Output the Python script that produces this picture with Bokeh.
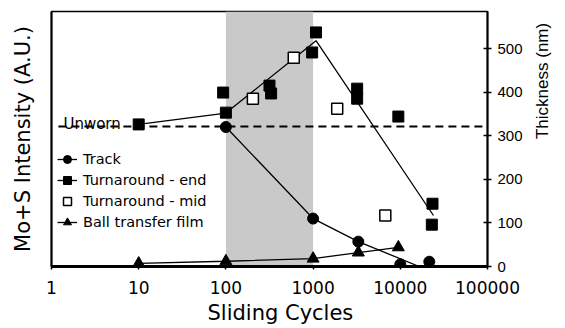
from bokeh.plotting import figure
from bokeh.models import (Range1d, LinearAxis, FixedTicker, BoxAnnotation, Label,
                          Legend, LegendItem, Title, NumeralTickFormatter)
from bokeh.embed import file_html
from bokeh.resources import INLINE

# ---- data ----
x_ticks = [1, 10, 100, 1000, 10000, 100000]
y_ticks = [0, 100, 200, 300, 400, 500]

track_x = [100, 1000, 3300, 10000, 21500]
track_y = [320, 110, 57, 5, 11]
track_line_x = [100, 1000, 3300, 16500]
track_line_y = [320, 110, 57, 0]

end_x = [10, 100, 93, 316, 330, 975, 1080, 3200, 3200, 9500, 23400, 23000]
end_y = [326, 353, 399, 415, 397, 491, 537, 408, 385, 344, 144, 96]
end_line_x = [10, 100, 1080, 24000]
end_line_y = [326, 352, 518, 117]

mid_x = [204, 600, 1890, 6730]
mid_y = [385, 479, 362, 117]

ball_x = [10, 100, 1000, 3300, 9500]
ball_y = [7, 12, 18, 32, 44]

unworn_level = 321
unworn_x = [1.2, 100000]
shade_left, shade_right = 100, 1000

FONT = "DejaVu Sans"
ARIAL = "Liberation Sans"

p = figure(width=565, height=328, x_axis_type="log",
           x_range=Range1d(1, 100000), y_range=Range1d(0, 585),
           y_axis_location="right", output_backend="svg", toolbar_location=None,
           min_border_left=51, min_border_right=78, min_border_top=11,
           min_border_bottom=62)
p.grid.visible = False
p.outline_line_color = "black"
p.outline_line_width = 1.5
p.background_fill_color = "white"

p.add_layout(BoxAnnotation(left=shade_left, right=shade_right, fill_color="#c9c9c9",
                           fill_alpha=1.0, line_color=None, level="underlay"))

# x axis
xa = p.xaxis[0]
xa.ticker = FixedTicker(ticks=x_ticks, minor_ticks=[])
xa.formatter = NumeralTickFormatter(format="0")
xa.axis_line_width = 3
xa.major_tick_in = 0
xa.major_tick_out = 3
xa.major_tick_line_width = 1.5
xa.minor_tick_line_color = None
xa.major_label_standoff = 11
xa.major_label_text_font = FONT
xa.major_label_text_font_size = "17px"
xa.major_label_text_color = "black"

# right axis
ya = p.yaxis[0]
ya.ticker = FixedTicker(ticks=y_ticks, minor_ticks=[])
ya.axis_line_width = 2
ya.major_tick_in = 4
ya.major_tick_out = 4
ya.major_tick_line_width = 1.5
ya.minor_tick_line_color = None
ya.major_label_standoff = 6
ya.major_label_text_font = ARIAL
ya.major_label_text_font_size = "15px"
ya.major_label_text_color = "black"
ya.axis_label = "Thickness (nm)"
ya.axis_label_text_font = ARIAL
ya.axis_label_text_font_size = "17px"
ya.axis_label_text_font_style = "normal"
ya.axis_label_text_color = "black"
ya.axis_label_standoff = 17
ya.axis_label_orientation = 1.5708

# left axis (no ticks)
la = LinearAxis(ticker=FixedTicker(ticks=[], minor_ticks=[]),
                axis_label="Mo+S Intensity (A.U.)",
                axis_line_width=2, major_tick_line_color=None,
                minor_tick_line_color=None)
la.axis_label_text_font = FONT
la.axis_label_text_font_size = "21px"
la.axis_label_text_font_style = "normal"
la.axis_label_text_color = "black"
la.axis_label_standoff = 17
p.add_layout(la, "left")

p.add_layout(Title(text="Sliding Cycles", align="left", offset=156,
                   text_font=FONT, text_font_size="21px", text_font_style="normal",
                   text_color="black", standoff=4), "below")

# unworn reference
p.line(unworn_x, [unworn_level, unworn_level], line_color="black",
       line_width=2, line_dash="8 5")
p.add_layout(Label(x=1.37, y=unworn_level, y_offset=3, text="Unworn",
                   text_font=FONT, text_font_size="15px", text_baseline="alphabetic",
                   text_color="black"))

# series
tl = p.line(track_line_x, track_line_y, line_color="black", line_width=1.3)
ts = p.scatter(track_x, track_y, marker="circle", size=11, fill_color="black",
               line_color="black")
el = p.line(end_line_x, end_line_y, line_color="black", line_width=1.3)
es = p.scatter(end_x, end_y, marker="square", size=11, fill_color="black",
               line_color="black")
ms = p.scatter(mid_x, mid_y, marker="square", size=11, fill_color="white",
               line_color="black", line_width=1.5)
bl = p.line(ball_x, ball_y, line_color="black", line_width=1.3)
bs = p.scatter(ball_x, ball_y, marker="triangle", size=12, fill_color="black",
               line_color="black")

legend = Legend(items=[
    LegendItem(label="Track", renderers=[tl, ts]),
    LegendItem(label="Turnaround - end", renderers=[el, es]),
    LegendItem(label="Turnaround - mid", renderers=[ms]),
    LegendItem(label="Ball transfer film", renderers=[bl, bs]),
], location=(6, 34))
legend.background_fill_alpha = 0
legend.border_line_color = None
legend.padding = 0
legend.margin = 0
legend.spacing = 1
legend.glyph_width = 20
legend.glyph_height = 20
legend.label_height = 20
legend.label_standoff = 6
legend.label_text_font = FONT
legend.label_text_font_size = "14.5px"
legend.label_text_color = "black"
p.add_layout(legend, "center")

open("out.html", "w").write(file_html(p, INLINE))
